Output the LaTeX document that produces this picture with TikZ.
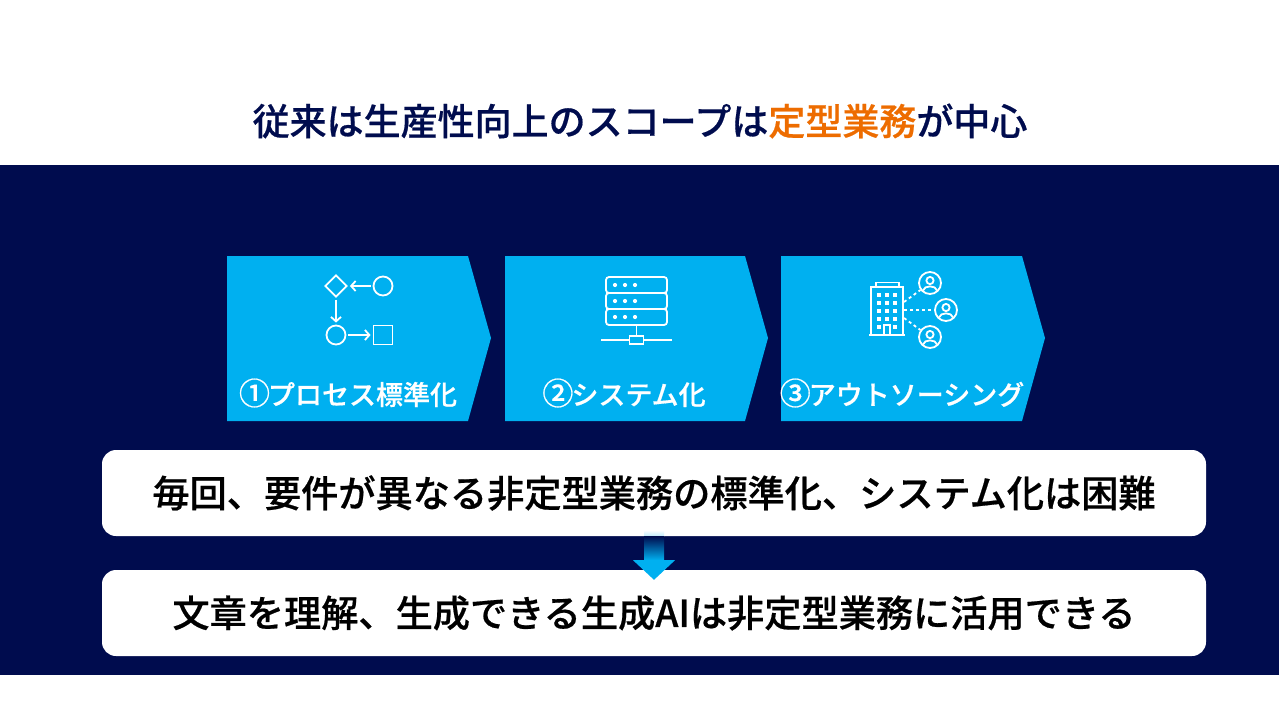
\documentclass[tikz,border=0pt]{standalone}
\usepackage{fontspec}
\setmainfont{Noto Sans CJK JP}[BoldFont={Noto Sans CJK JP Medium}, BoldFeatures={FakeBold=0.5}]
\usetikzlibrary{shapes.geometric, arrows.meta}
\definecolor{navyband}{HTML}{000C4E}
\definecolor{skyblue}{HTML}{00B0F0}
\definecolor{orangetext}{HTML}{ED6C00}
\newcommand{\stepnum}[1]{\makebox[27pt]{\fontsize{31}{31}\selectfont #1}}
\tikzset{
    msgbox/.style={fill=white, rounded corners=14pt, minimum width=1104pt, minimum height=86pt, inner sep=0pt, text=black, font=\fontsize{37.2}{44}\selectfont\bfseries},
    steplabel/.style={text=white, inner sep=0pt, font=\fontsize{27}{32}\selectfont\bfseries},
    icon/.style={draw=white, line width=1.8pt},
    barb/.style={-{Straight Barb[length=4.5pt, width=10pt]}, shorten <=2pt, shorten >=2pt},
}
\begin{document}
\begin{tikzpicture}[x=1pt, y=-1pt]
            \useasboundingbox (0, 0) rectangle (1279, 720);
            \fill[navyband] (0, 165) rectangle (1279, 675);

            \node[text=navyband, inner sep=0pt, font=\fontsize{37}{44}\selectfont\bfseries] (title) at (640, 121) {従来は生産性向上のスコープは{\color{orangetext}定型業務}が中心};

            \fill[skyblue] (227, 256) -- (468, 256) -- (491, 338) -- (468, 421) -- (227, 421) -- cycle;
            \fill[skyblue] (505, 256) -- (745, 256) -- (768, 338) -- (745, 421) -- (505, 421) -- cycle;
            \fill[skyblue] (781, 256) -- (1022, 256) -- (1045, 338) -- (1022, 421) -- (781, 421) -- cycle;

            \node[steplabel] (labelA) at (349, 393) {\stepnum{①}プロセス標準化};
            \node[steplabel] (labelB) at (625, 393) {\stepnum{②}システム化};
            \node[steplabel] (labelC) at (903, 393) {\stepnum{③}アウトソーシング};

            \node[icon, diamond, minimum size=22pt, inner sep=0pt] (flowA) at (336, 286) {};
            \node[icon, circle, minimum size=19pt, inner sep=0pt] (flowB) at (383, 286) {};
            \node[icon, circle, minimum size=19pt, inner sep=0pt] (flowC) at (336, 335) {};
            \node[icon, rectangle, minimum size=19pt, inner sep=0pt] (flowD) at (383, 335) {};
            \draw[icon, barb] (flowB) -- (flowA);
            \draw[icon, barb] (flowA) -- (flowC);
            \draw[icon, barb] (flowC) -- (flowD);

            \draw[icon, rounded corners=3pt] (606, 277) rectangle (667, 293);
            \draw[icon, rounded corners=3pt] (606, 293) rectangle (667, 309);
            \draw[icon, rounded corners=3pt] (606, 309) rectangle (667, 325);
            \foreach \y in {285, 301, 317} {
                \fill[white] (615, \y) circle (2.1);
                \fill[white] (625, \y) circle (2.1);
                \fill[white] (635, \y) circle (2.1);
            }
            \node[icon, rectangle, minimum width=14pt, minimum height=8pt, inner sep=0pt] (hub) at (636.5, 340) {};
            \coordinate (rackbase) at (636.5, 325);
            \coordinate (netL) at (601, 340);
            \coordinate (netR) at (672, 340);
            \draw[icon] (rackbase) -- (hub);
            \draw[icon] (netL) -- (hub);
            \draw[icon] (netR) -- (hub);

            \draw[icon] (871, 335) -- (871, 287) -- (903, 287) -- (903, 335);
            \draw[icon] (876, 287) -- (876, 282.5) -- (899, 282.5) -- (899, 287);
            \draw[icon] (869, 335) -- (905, 335);
            \draw[icon] (884, 335) -- (884, 325) -- (890, 325) -- (890, 335);
            \foreach \y in {293, 301, 309, 317} {
                \fill[white] (877, \y) rectangle +(4, 4);
                \fill[white] (885, \y) rectangle +(4, 4);
                \fill[white] (893, \y) rectangle +(4, 4);
            }
            \fill[white] (877, 325) rectangle +(4, 4);
            \fill[white] (893, 325) rectangle +(4, 4);

            \node[icon, circle, minimum size=22pt, inner sep=0pt] (userA) at (930, 283) {};
            \node[icon, circle, minimum size=22pt, inner sep=0pt] (userB) at (946, 310) {};
            \node[icon, circle, minimum size=22pt, inner sep=0pt] (userC) at (930, 337) {};
            \foreach \u in {userA, userB, userC} {
                \draw[icon] ([yshift=2.5pt]\u.center) circle (3.6);
                \draw[icon] ([xshift=-7pt,yshift=-7.5pt]\u.center) .. controls ([xshift=-6pt,yshift=-2pt]\u.center) and ([xshift=6pt,yshift=-2pt]\u.center) .. ([xshift=7pt,yshift=-7.5pt]\u.center);
            }
            \coordinate (towerA) at (904, 302);
            \coordinate (towerB) at (904, 310);
            \coordinate (towerC) at (904, 318);
            \draw[icon, dash pattern=on 3pt off 3pt] (towerA) -- (userA);
            \draw[icon, dash pattern=on 3pt off 3pt] (towerB) -- (userB);
            \draw[icon, dash pattern=on 3pt off 3pt] (towerC) -- (userC);

            \node[msgbox] (msgA) at (654, 493) {毎回、要件が異なる非定型業務の標準化、システム化は困難};
            \node[msgbox] (msgB) at (654, 613) {文章を理解、生成できる生成AIは非定型業務に活用できる};

            \shade[top color=white, bottom color=skyblue!25] ([xshift=-10pt,yshift=6pt]msgA.south) rectangle ([xshift=10pt]msgA.south);
            \shade[top color=navyband, bottom color=skyblue] ([xshift=-10pt]msgA.south) rectangle ([xshift=10pt,yshift=-24pt]msgA.south);
            \fill[skyblue] ([xshift=-21pt,yshift=-24pt]msgA.south) -- ([xshift=21pt,yshift=-24pt]msgA.south) -- ([yshift=-10pt]msgB.north) -- cycle;

        \end{tikzpicture}
\end{document}
